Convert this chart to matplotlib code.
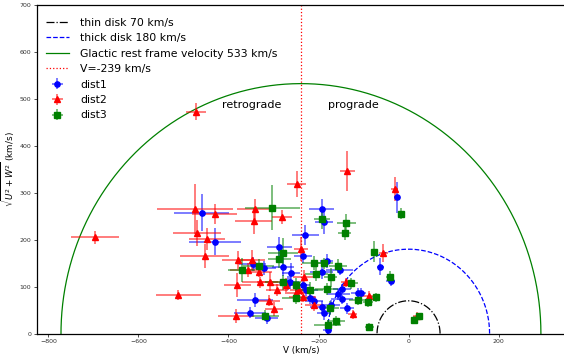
import numpy as np
import matplotlib
matplotlib.use("Agg")
import matplotlib.pyplot as plt

# Reference circles (km/s)
thin_radius = 70
thick_radius = 180
rest_radius = 533
v_sun = -239

# dist1: V, sqrt(U^2+W^2), errors
d1_v = [-459, -430, -193, -188, -26, -229, -287, -279, -346, -320, -268, -340, -352, -315,
        -63, -40, -235, -182, -153, -193, -261, -264, -235, -227, -148, -156, -113, -148,
        -220, -210, -193, -172, -137, -188, -105, -180]
d1_w = [258, 196, 266, 237, 291, 210, 185, 143, 148, 140, 107, 72, 45, 33,
        143, 113, 166, 155, 136, 132, 130, 111, 104, 93, 95, 84, 86, 73,
        75, 70, 57, 61, 54, 45, 87, 8]
d1_verr = [61, 57, 28, 20, 7, 30, 28, 25, 30, 25, 20, 40, 35, 25,
           8, 10, 20, 15, 30, 25, 20, 20, 15, 25, 20, 25, 15, 25,
           15, 20, 25, 20, 15, 15, 10, 10]
d1_werr = [39, 29, 21, 25, 33, 21, 22, 20, 15, 15, 15, 15, 12, 12,
           18, 12, 15, 15, 12, 15, 20, 15, 12, 12, 10, 12, 12, 10,
           12, 10, 12, 10, 12, 15, 10, 10]

# dist2
d2_v = [-472, -696, -511, -474, -430, -470, -448, -453, -341, -344, -281, -248, -136, -31,
        -239, -379, -348, -357, -333, -381, -330, -307, -292, -273, -311, -299, -384,
        -232, -244, -250, -235, -209, -140, -124, -88, -56, 18]
d2_w = [473, 205, 82, 266, 255, 215, 202, 165, 265, 240, 249, 319, 347, 308,
        180, 157, 157, 136, 132, 104, 109, 111, 93, 104, 70, 52, 38,
        120, 94, 86, 79, 61, 109, 41, 80, 172, 37]
d2_verr = [23, 53, 49, 85, 50, 54, 40, 55, 41, 41, 22, 21, 16, 7,
           15, 35, 30, 40, 30, 30, 40, 30, 25, 35, 25, 20, 40,
           25, 20, 25, 30, 20, 10, 10, 20, 10, 8]
d2_werr = [18, 14, 10, 53, 22, 28, 23, 25, 21, 28, 15, 28, 43, 26,
           25, 20, 22, 15, 12, 25, 12, 20, 12, 15, 12, 15, 15,
           15, 15, 12, 12, 12, 10, 10, 10, 20, 10]

# dist3
d3_v = [-303, -193, -138, -142, -16, -279, -287, -370, -333, -279, -211, -187, -157, -205,
        -173, -76, -42, -250, -220, -182, -127, -73, -113, -90, -250, -174, -161, -180,
        -87, 13, 24, -318]
d3_w = [268, 244, 235, 215, 256, 171, 159, 136, 144, 109, 150, 150, 144, 127,
        120, 175, 121, 104, 94, 95, 107, 77, 72, 68, 75, 54, 27, 18,
        15, 29, 37, 38]
d3_verr = [61, 18, 22, 15, 4, 33, 25, 30, 35, 40, 25, 20, 20, 25,
           15, 8, 8, 25, 30, 25, 15, 10, 20, 12, 30, 20, 20, 30,
           10, 5, 8, 30]
d3_werr = [48, 20, 20, 15, 11, 32, 20, 25, 15, 15, 15, 12, 15, 15,
           20, 22, 12, 15, 15, 12, 12, 10, 10, 12, 12, 15, 10, 10,
           8, 8, 8, 12]

fig = plt.figure(figsize=(5.64, 3.6), dpi=100)
ax = fig.add_axes([0.0656, 0.0733, 0.936, 0.912])

theta = np.linspace(0, np.pi, 400)
ax.plot(thin_radius * np.cos(theta), thin_radius * np.sin(theta),
        color="black", ls="-.", lw=0.9, label="thin disk 70 km/s")
ax.plot(thick_radius * np.cos(theta), thick_radius * np.sin(theta),
        color="blue", ls="--", lw=0.9, label="thick disk 180 km/s")
ax.plot(v_sun + rest_radius * np.cos(theta), rest_radius * np.sin(theta),
        color="green", ls="-", lw=0.9, label="Glactic rest frame velocity 533 km/s")
ax.axvline(v_sun, color="red", ls=":", lw=0.9, label="V=-239 km/s")

series = [
    (d1_v, d1_w, d1_verr, d1_werr, "blue", "o", "dist1"),
    (d2_v, d2_w, d2_verr, d2_werr, "red", "^", "dist2"),
    (d3_v, d3_w, d3_verr, d3_werr, "green", "s", "dist3"),
]
for v, w, ve, we, c, m, lab in series:
    ax.errorbar(v, w, xerr=ve, yerr=we, fmt=m, color=c, ms=3.8,
                ecolor=matplotlib.colors.to_rgba(c, 0.6), elinewidth=1.2,
                capsize=0, label=lab)

ax.set_ylim(0, 700)
ax.text(-415, 480, "retrograde", fontsize=8)
ax.text(-180, 480, "prograde", fontsize=8)

ax.set_xlabel("V (km/s)", fontsize=6.3, labelpad=1)
ax.set_ylabel(r"$\sqrt{U^2+W^2}$ (km/s)", fontsize=6.3, labelpad=2)
ax.tick_params(labelsize=4.5, length=2.5, width=0.6, pad=1.5, colors="#333333")
for s in ax.spines.values():
    s.set_linewidth(0.9)

ax.legend(loc="upper left", frameon=False, fontsize=7.8, handlelength=2.2,
          handletextpad=1.0, labelspacing=0.5, borderaxespad=0.0,
          bbox_to_anchor=(0.008, 0.975))

fig.savefig("out.png", dpi=100)
